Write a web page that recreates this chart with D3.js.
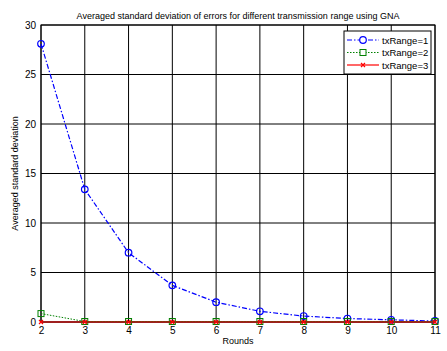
<!DOCTYPE html>
<html>
<head>
<meta charset="utf-8">
<script src="https://cdn.jsdelivr.net/npm/d3@7"></script>
<style>
body { margin: 0; background: #fff; }
text { font-family: "Liberation Sans", Arial, sans-serif; }
</style>
</head>
<body>
<div class="chart"></div>
<script>
const rounds = [2, 3, 4, 5, 6, 7, 8, 9, 10, 11];
const tx1 = [28.1, 13.4, 7.0, 3.7, 2.0, 1.08, 0.6, 0.35, 0.22, 0.1];
const tx2 = [0.85, 0.05, 0.05, 0.05, 0.05, 0.05, 0.05, 0.05, 0.05, 0.05];
const tx3 = [0, 0, 0, 0, 0, 0, 0, 0, 0, 0];
const seriesNames = ["txRange=1", "txRange=2", "txRange=3"];
const yTicks = [0, 5, 10, 15, 20, 25, 30];

function renderChart() {
    const margin = ({top: 25, right: 12, bottom: 29, left: 41});
    const W = 447, H = 351;
    const width = W - margin.left - margin.right;
    const height = H - margin.top - margin.bottom;

    const xScale = d3.scaleLinear().domain([2, 11]).range([0, width]);
    const yScale = d3.scaleLinear().domain([0, 30]).range([height, 0]);

    const root = d3.select(".chart").append("svg")
        .attr("width", W)
        .attr("height", H);

    const svg = root.append("g")
        .attr("transform", "translate(" + margin.left + "," + margin.top + ")");

    // grid
    svg.append("g").selectAll("line")
        .data(rounds)
        .enter().append("line")
        .attr("x1", d => xScale(d)).attr("x2", d => xScale(d))
        .attr("y1", 0).attr("y2", height)
        .attr("stroke", "#000").attr("stroke-width", 1);
    svg.append("g").selectAll("line")
        .data(yTicks)
        .enter().append("line")
        .attr("x1", 0).attr("x2", width)
        .attr("y1", d => yScale(d)).attr("y2", d => yScale(d))
        .attr("stroke", "#000").attr("stroke-width", 1);

    svg.append("rect")
        .attr("width", width).attr("height", height)
        .attr("fill", "none").attr("stroke", "#000");

    const xAxis = d3.axisBottom(xScale).tickValues(rounds).tickSize(0).tickPadding(5).tickFormat(d3.format("d"));
    const yAxis = d3.axisLeft(yScale).tickValues(yTicks).tickSize(0).tickPadding(5);

    svg.append("g")
        .attr("transform", `translate(0, ${height})`)
        .call(xAxis)
        .call(g => g.select(".domain").remove())
        .selectAll("text").attr("font-size", 10).attr("fill", "#000")
        .attr("font-family", "Liberation Sans, Arial, sans-serif");

    svg.append("g")
        .call(yAxis)
        .call(g => g.select(".domain").remove())
        .selectAll("text").attr("font-size", 10).attr("fill", "#000")
        .attr("font-family", "Liberation Sans, Arial, sans-serif");

    const line = d3.line()
        .x((d, i) => xScale(rounds[i]))
        .y(d => yScale(d));

    // txRange=1
    svg.append("path")
        .datum(tx1)
        .attr("d", line)
        .attr("fill", "none")
        .attr("stroke", "#0000ff")
        .attr("stroke-width", 1.2)
        .attr("stroke-dasharray", "5,2,1.5,2");
    svg.append("g").selectAll("circle")
        .data(tx1).enter().append("circle")
        .attr("cx", (d, i) => xScale(rounds[i]))
        .attr("cy", d => yScale(d))
        .attr("r", 3.3)
        .attr("fill", "none")
        .attr("stroke", "#0000ff")
        .attr("stroke-width", 1.2);

    // txRange=2
    svg.append("path")
        .datum(tx2)
        .attr("d", line)
        .attr("fill", "none")
        .attr("stroke", "#008000")
        .attr("stroke-width", 1)
        .attr("stroke-dasharray", "1.5,1.5");
    svg.append("g").selectAll("rect")
        .data(tx2).enter().append("rect")
        .attr("x", (d, i) => xScale(rounds[i]) - 3)
        .attr("y", d => yScale(d) - 3)
        .attr("width", 6).attr("height", 6)
        .attr("fill", "none")
        .attr("stroke", "#008000")
        .attr("stroke-width", 1);

    // txRange=3
    svg.append("path")
        .datum(tx3)
        .attr("d", line)
        .attr("fill", "none")
        .attr("stroke", "#ff0000")
        .attr("stroke-width", 1);
    svg.append("g").selectAll("path")
        .data(tx3).enter().append("path")
        .attr("d", (d, i) => {
            const x = xScale(rounds[i]), y = yScale(d);
            return `M${x-2},${y-2}L${x+2},${y+2}M${x-2},${y+2}L${x+2},${y-2}`;
        })
        .attr("stroke", "#ff0000")
        .attr("stroke-width", 1.2);

    // title and labels
    root.append("text")
        .attr("x", margin.left + width / 2)
        .attr("y", 19)
        .attr("text-anchor", "middle")
        .attr("font-size", 9)
        .text("Averaged standard deviation of errors for different transmission range using GNA");

    root.append("text")
        .attr("x", margin.left + width / 2)
        .attr("y", 344)
        .attr("text-anchor", "middle")
        .attr("font-size", 9)
        .text("Rounds");

    root.append("text")
        .attr("transform", `translate(18, ${margin.top + height / 2}) rotate(-90)`)
        .attr("text-anchor", "middle")
        .attr("font-size", 9)
        .text("Averaged standard deviation");

    // legend
    const lg = root.append("g").attr("transform", "translate(344, 31)");
    lg.append("rect")
        .attr("width", 87).attr("height", 43)
        .attr("fill", "#fff").attr("stroke", "#000");
    const colors = ["#0000ff", "#008000", "#ff0000"];
    const dashes = ["5,2,1.5,2", "1.5,1.5", null];
    seriesNames.forEach((name, i) => {
        const y = 9 + i * 12.5;
        lg.append("line")
            .attr("x1", 3).attr("x2", 35).attr("y1", y).attr("y2", y)
            .attr("stroke", colors[i]).attr("stroke-width", 1.2)
            .attr("stroke-dasharray", dashes[i]);
        if (i === 0) {
            lg.append("circle").attr("cx", 19).attr("cy", y).attr("r", 3.3)
                .attr("fill", "#fff").attr("stroke", colors[i]).attr("stroke-width", 1.2);
        } else if (i === 1) {
            lg.append("rect").attr("x", 16).attr("y", y - 3).attr("width", 6).attr("height", 6)
                .attr("fill", "#fff").attr("stroke", colors[i]);
        } else {
            lg.append("path").attr("d", `M17,${y-2}L21,${y+2}M17,${y+2}L21,${y-2}`)
                .attr("stroke", colors[i]).attr("stroke-width", 1.2);
        }
        lg.append("text")
            .attr("x", 38).attr("y", y + 3.5)
            .attr("font-size", 9.5)
            .text(name);
    });
}

renderChart();
</script>
</body>
</html>
